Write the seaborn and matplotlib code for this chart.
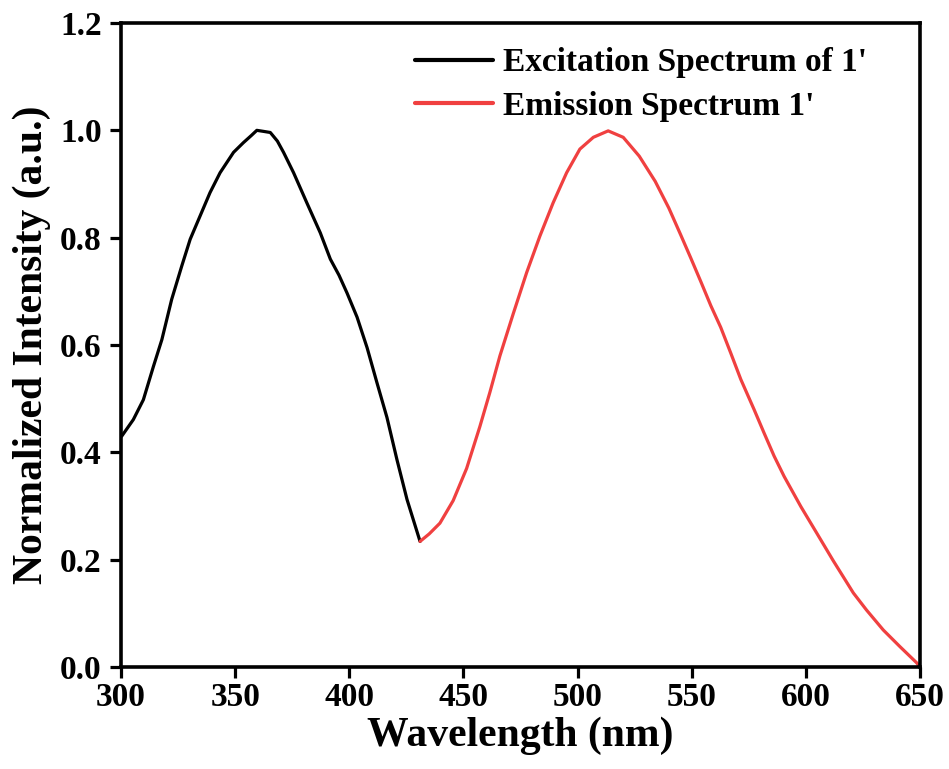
import numpy as np
import pandas as pd
import matplotlib
matplotlib.use("Agg")
import matplotlib.pyplot as plt
import seaborn as sns

# Excitation spectrum (wavelength nm, normalized intensity)
exc_wl = [300.3, 305.4, 309.8, 314.2, 317.9, 322.2, 326.6, 330.3, 334.6, 339.0,
          343.4, 349.3, 353.6, 357.0, 359.5, 362.5, 365.4, 368.5, 371.2, 375.6,
          381.4, 387.3, 391.7, 395.5, 399.0, 403.4, 407.8, 412.1, 416.5, 420.9,
          425.3, 431.0]
exc_int = [0.430, 0.461, 0.498, 0.560, 0.610, 0.685, 0.747, 0.797, 0.840, 0.884,
           0.921, 0.959, 0.977, 0.990, 1.000, 0.998, 0.996, 0.980, 0.959, 0.921,
           0.865, 0.809, 0.760, 0.730, 0.697, 0.652, 0.595, 0.530, 0.465, 0.386,
           0.312, 0.234]

# Emission spectrum
em_wl = [431.0, 435.0, 439.7, 445.5, 451.4, 457.2, 461.6, 466.0, 471.8, 477.7,
         483.5, 489.3, 495.2, 501.0, 506.9, 513.4, 520.0, 527.0, 534.0, 540.0,
         545.2, 549.6, 554.0, 558.4, 562.7, 567.1, 571.5, 577.3, 581.7, 586.1,
         590.5, 597.8, 604.7, 612.0, 620.8, 626.6, 633.9, 641.2, 648.5, 650.0]
em_int = [0.234, 0.248, 0.268, 0.310, 0.370, 0.448, 0.512, 0.580, 0.658, 0.735,
          0.803, 0.865, 0.921, 0.965, 0.987, 0.999, 0.987, 0.952, 0.905, 0.855,
          0.805, 0.762, 0.718, 0.673, 0.633, 0.585, 0.536, 0.480, 0.436, 0.393,
          0.355, 0.299, 0.250, 0.198, 0.138, 0.106, 0.069, 0.038, 0.008, 0.000]

labels = ["Excitation Spectrum of 1'", "Emission Spectrum 1'"]
x_ticks = [300, 350, 400, 450, 500, 550, 600, 650]
y_ticks = [0.0, 0.2, 0.4, 0.6, 0.8, 1.0, 1.2]

df = pd.concat([
    pd.DataFrame({"wl": exc_wl, "I": exc_int, "series": labels[0]}),
    pd.DataFrame({"wl": em_wl, "I": em_int, "series": labels[1]}),
], ignore_index=True)

sns.set_theme(style="ticks")
plt.rcParams["font.family"] = ["Liberation Serif", "DejaVu Serif"]
plt.rcParams["font.weight"] = "bold"
plt.rcParams["text.color"] = "black"
plt.rcParams["axes.labelcolor"] = "black"
plt.rcParams["xtick.color"] = "black"
plt.rcParams["ytick.color"] = "black"

fig = plt.figure(figsize=(9.49, 7.69), dpi=100)
ax = fig.add_axes([121/949, 1-667/769, (920-121)/949, (667-23)/769])

sns.lineplot(data=df, x="wl", y="I", hue="series", sort=False,
             palette={labels[0]: "#000000", labels[1]: "#F04040"},
             linewidth=2.3, ax=ax, legend=True)

ax.set_xlim(300, 650)
ax.set_ylim(0, 1.2)
ax.set_xticks(x_ticks)
ax.set_yticks(y_ticks)
ax.set_xticklabels([str(v) for v in x_ticks])
ax.set_yticklabels([f"{v:.1f}" for v in y_ticks])
ax.tick_params(axis="both", direction="out", length=8, width=2.3,
               labelsize=24, color="black", labelcolor="black")
ax.tick_params(axis="x", pad=3)
ax.tick_params(axis="y", pad=6)
for lab in ax.get_xticklabels() + ax.get_yticklabels():
    lab.set_fontweight("bold")
for sp in ax.spines.values():
    sp.set_visible(True)
    sp.set_linewidth(2.6)
    sp.set_color("black")

ax.set_xlabel("Wavelength (nm)", fontsize=30, fontweight="bold", labelpad=2, color="black")
ax.set_ylabel("Normalized Intensity (a.u.)", fontsize=30, fontweight="bold", labelpad=6, color="black")

leg = ax.legend(loc="upper left", bbox_to_anchor=(0.368, 0.962), frameon=False,
                handlelength=2.35, handletextpad=0.3,
                borderpad=0, borderaxespad=0, labelspacing=0.37,
                prop={"weight": "bold", "size": 24})
for line in leg.get_lines():
    line.set_linewidth(3)
for t in leg.get_texts():
    t.set_color("black")

fig.savefig("out.png", dpi=100)
